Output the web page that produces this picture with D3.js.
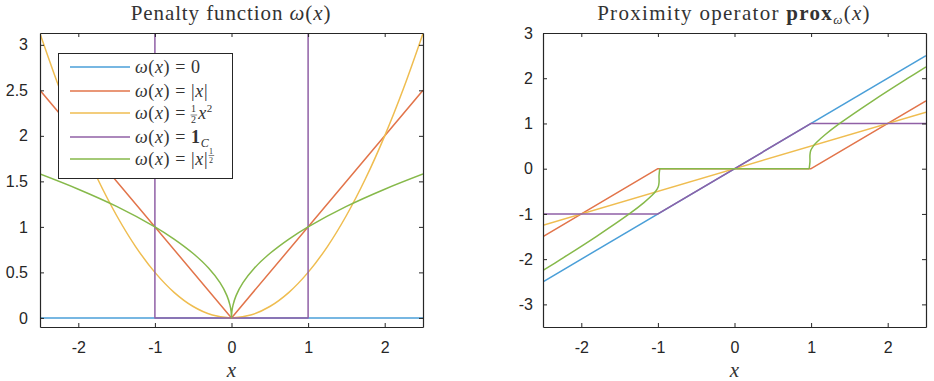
<!doctype html>
<html>
<head>
<script src="https://cdnjs.cloudflare.com/ajax/libs/d3/7.8.5/d3.min.js"></script>
<style>
body { margin: 0; background: #fff; }
svg { display: block; }
.tick text { font-family: "Liberation Sans", Arial, sans-serif; font-size: 16px; fill: #262626; }
.tick line, .domain { stroke: #262626; }
.ttl { font-family: "Liberation Serif", serif; font-size: 21px; fill: #333; letter-spacing: 0.9px; }
.xl { font-family: "Liberation Serif", serif; font-size: 21px; fill: #333; font-style: italic; }
.leg { font-family: "Liberation Serif", serif; font-size: 18px; fill: #333; letter-spacing: 0.6px; }
</style>
</head>
<body>
<svg id="fig" width="934" height="381"></svg>
<script>
// ticks
var xTicks = [-2, -1, 0, 1, 2];
var penTicks = [0, 0.5, 1, 1.5, 2, 2.5, 3];
var proxTicks = [-3, -2, -1, 0, 1, 2, 3];

var colors = ["#4a9fd8", "#e2744a", "#efbd50", "#9060a6", "#86b94a"];

// penalty functions omega(x)
var penZero = [[-2.5, 0], [2.5, 0]];
var penAbs = [[-2.5, 2.5], [0, 0], [2.5, 2.5]];
var penQuad = [[-2.5, 3.125], [-2.25, 2.531], [-2, 2], [-1.75, 1.531], [-1.5, 1.125], [-1.25, 0.781],
  [-1, 0.5], [-0.75, 0.281], [-0.5, 0.125], [-0.25, 0.031], [0, 0], [0.25, 0.031], [0.5, 0.125],
  [0.75, 0.281], [1, 0.5], [1.25, 0.781], [1.5, 1.125], [1.75, 1.531], [2, 2], [2.25, 2.531], [2.5, 3.125]];
var penInd = [[-1, 3.5], [-1, 0], [1, 0], [1, 3.5]];
var penSqrt = [[-2.5, 1.581], [-2, 1.414], [-1.5, 1.225], [-1, 1], [-0.75, 0.866], [-0.5, 0.707],
  [-0.3, 0.548], [-0.15, 0.387], [-0.06, 0.245], [-0.02, 0.141], [-0.005, 0.071], [0, 0],
  [0.005, 0.071], [0.02, 0.141], [0.06, 0.245], [0.15, 0.387], [0.3, 0.548], [0.5, 0.707],
  [0.75, 0.866], [1, 1], [1.5, 1.225], [2, 1.414], [2.5, 1.581]];

// proximity operators
var proxZero = [[-2.5, -2.5], [2.5, 2.5]];
var proxAbs = [[-2.5, -1.5], [-1, 0], [1, 0], [2.5, 1.5]];
var proxQuad = [[-2.5, -1.25], [2.5, 1.25]];
var proxInd = [[-2.5, -1], [-1, -1], [1, 1], [2.5, 1]];
var proxSqrtNeg = [[-2.5, -2.25], [-2.264, -2], [-1.805, -1.5], [-1.374, -1], [-1.182, -0.75],
  [-1.083, -0.6], [-1.029, -0.5], [-0.995, -0.4], [-0.985, -0.3], [-0.985, -0.15], [-0.975, 0]];
var proxSqrtMid = [[-0.975, 0], [0.975, 0]];
var proxSqrtPos = [[0.975, 0], [0.985, 0.15], [0.985, 0.3], [0.995, 0.4], [1.029, 0.5], [1.083, 0.6],
  [1.182, 0.75], [1.374, 1], [1.805, 1.5], [2.264, 2], [2.5, 2.25]];

var svg = d3.select("#fig");
var fmt = function(d) { return String(d); };

function panel(id, x0, x1, yDom, yTicks, yPad, series) {
  var x = d3.scaleLinear().domain([-2.5, 2.5]).range([x0, x1]);
  var y = d3.scaleLinear().domain(yDom).range([327, 33]);
  var g = svg.append("g").attr("id", id);

  g.append("clipPath").attr("id", "clip_" + id)
    .append("rect").attr("x", x0).attr("y", 33).attr("width", x1 - x0).attr("height", 294);

  var lines = g.append("g").attr("clip-path", "url(#clip_" + id + ")");
  series.forEach(function(s) {
    var ln = d3.line().x(function(d) { return x(d[0]); }).y(function(d) { return y(d[1]); })
      .curve(s.smooth ? d3.curveCatmullRom.alpha(0.5) : d3.curveLinear);
    lines.append("path").attr("d", ln(s.pts)).attr("fill", "none")
      .attr("stroke", colors[s.c]).attr("stroke-width", 1.5).attr("stroke-linejoin", "round");
  });

  g.append("g").attr("transform", "translate(0,327)")
    .call(d3.axisBottom(x).tickValues(xTicks).tickFormat(fmt).tickSizeInner(-4).tickSizeOuter(0).tickPadding(15));
  g.append("g").attr("transform", "translate(0,33)")
    .call(d3.axisTop(x).tickValues(xTicks).tickFormat("").tickSizeInner(-4).tickSizeOuter(0));
  g.append("g").attr("transform", "translate(" + x0 + ",0)")
    .call(d3.axisLeft(y).tickValues(yTicks).tickFormat(fmt).tickSizeInner(-4).tickSizeOuter(0).tickPadding(yPad));
  g.append("g").attr("transform", "translate(" + x1 + ",0)")
    .call(d3.axisRight(y).tickValues(yTicks).tickFormat("").tickSizeInner(-4).tickSizeOuter(0));
  g.selectAll(".domain").attr("stroke-width", 1.2);

  g.append("text").attr("class", "xl").attr("x", (x0 + x1) / 2).attr("y", 377)
    .attr("text-anchor", "middle").text("x");
  return g;
}

var left = panel("pen", 40, 423, [-0.1, 3.13], penTicks, 12, [
  { pts: penZero, c: 0 }, { pts: penAbs, c: 1 }, { pts: penQuad, c: 2, smooth: true },
  { pts: penInd, c: 3 }, { pts: penSqrt, c: 4, smooth: true }
]);
var right = panel("prox", 543, 926, [-3.5, 3], proxTicks, 10, [
  { pts: proxZero, c: 0 }, { pts: proxAbs, c: 1 }, { pts: proxQuad, c: 2 },
  { pts: proxInd, c: 3 },
  { pts: proxSqrtNeg, c: 4, smooth: true }, { pts: proxSqrtMid, c: 4 }, { pts: proxSqrtPos, c: 4, smooth: true }
]);

// titles
var t1 = svg.append("text").attr("class", "ttl").attr("x", 231).attr("y", 20).attr("text-anchor", "middle");
t1.append("tspan").text("Penalty function ");
t1.append("tspan").style("font-style", "italic").text("ω");
t1.append("tspan").text("(");
t1.append("tspan").style("font-style", "italic").text("x");
t1.append("tspan").text(")");

var t2 = svg.append("text").attr("class", "ttl").attr("x", 734).attr("y", 20).attr("text-anchor", "middle")
  .style("letter-spacing", "1.3px");
t2.append("tspan").text("Proximity operator ");
t2.append("tspan").style("font-weight", "bold").text("prox");
t2.append("tspan").style("font-style", "italic").style("font-size", "13px").attr("dy", 4).text("ω");
t2.append("tspan").attr("dy", -4).text("(");
t2.append("tspan").style("font-style", "italic").text("x");
t2.append("tspan").text(")");

// legend
var legRows = [67, 91, 113, 137, 159];
var lg = svg.append("g").attr("id", "legend");
lg.append("rect").attr("x", 58.5).attr("y", 53.5).attr("width", 174).attr("height", 125)
  .attr("fill", "#fff").attr("stroke", "#262626").attr("stroke-width", 1);

function lhs(t) {
  t.append("tspan").style("font-style", "italic").text("ω");
  t.append("tspan").text("(");
  t.append("tspan").style("font-style", "italic").text("x");
  t.append("tspan").text(") = ");
}
var bars = [];
legRows.forEach(function(yy, i) {
  lg.append("line").attr("x1", 70).attr("x2", 130).attr("y1", yy).attr("y2", yy)
    .attr("stroke", colors[i]).attr("stroke-width", 1.5);
  var t = lg.append("text").attr("class", "leg").attr("x", 135).attr("y", yy + 6);
  lhs(t);
  if (i === 0) {
    t.append("tspan").text("0");
  } else if (i === 1) {
    t.append("tspan").text("|");
    t.append("tspan").style("font-style", "italic").text("x");
    t.append("tspan").text("|");
  } else if (i === 2) {
    t.append("tspan").style("font-size", "10px").attr("dy", -7).text("1");
    t.append("tspan").style("font-size", "10px").attr("dx", -5.6).attr("dy", 11).text("2");
    t.append("tspan").style("font-style", "italic").attr("dy", -4).attr("dx", 1.5).text("x");
    t.append("tspan").style("font-size", "11px").attr("dy", -7).text("2");
    bars.push({ node: t.node(), idx: 7, y: yy + 2 });
  } else if (i === 3) {
    t.append("tspan").style("font-weight", "bold").text("1");
    t.append("tspan").style("font-style", "italic").style("font-size", "12px").attr("dy", 4).text("C");
  } else {
    t.append("tspan").text("|");
    t.append("tspan").style("font-style", "italic").text("x");
    t.append("tspan").text("|");
    t.append("tspan").style("font-size", "8px").attr("dy", -11).attr("dx", 1).text("1");
    t.append("tspan").style("font-size", "8px").attr("dx", -4.6).attr("dy", 9).text("2");
    bars.push({ node: t.node(), idx: 10, y: yy - 3.5 });
  }
});
// little fraction bars under the numerators
bars.forEach(function(b) {
  var s = b.node.getStartPositionOfChar(b.idx), e = b.node.getEndPositionOfChar(b.idx);
  lg.append("line").attr("x1", s.x - 0.5).attr("x2", e.x + 0.5).attr("y1", b.y).attr("y2", b.y)
    .attr("stroke", "#333").attr("stroke-width", 0.6);
});
</script>
</body>
</html>
